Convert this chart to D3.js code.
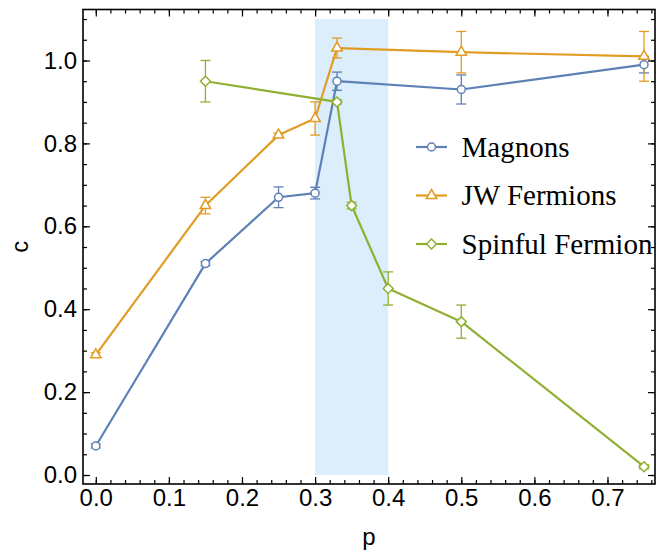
<!DOCTYPE html>
<html>
<head>
<meta charset="utf-8">
<script src="https://cdn.jsdelivr.net/npm/d3@7"></script>
<style>
  body { margin: 0; background: #fff; }
  svg { display: block; }
</style>
</head>
<body>
<svg width="668" height="556"></svg>
<script>
// data
const magP = [0, 0.15, 0.25, 0.30, 0.33, 0.50, 0.75];
const magC = [0.07, 0.51, 0.67, 0.68, 0.95, 0.93, 0.99];
const magErr = [0.005, 0.005, 0.025, 0.014, 0.022, 0.035, 0.02];

const jwP = [0, 0.15, 0.25, 0.30, 0.33, 0.50, 0.75];
const jwC = [0.29, 0.65, 0.82, 0.86, 1.03, 1.02, 1.01];
const jwErr = [0.005, 0.02, 0.005, 0.04, 0.024, 0.05, 0.06];

const spP = [0.15, 0.33, 0.35, 0.40, 0.50, 0.75];
const spC = [0.95, 0.90, 0.65, 0.45, 0.37, 0.02];
const spErr = [0.05, 0.005, 0.008, 0.04, 0.04, 0.005];

const band = [0.3, 0.4];
const bandTop = 1.1;

const xTicks = [0, 0.1, 0.2, 0.3, 0.4, 0.5, 0.6, 0.7];
const yTicks = [0, 0.2, 0.4, 0.6, 0.8, 1.0];

const series = [
  { name: "Magnons", p: magP, c: magC, err: magErr, color: "#5e81b5", shape: "circle" },
  { name: "JW Fermions", p: jwP, c: jwC, err: jwErr, color: "#e19c24", shape: "triangle" },
  { name: "Spinful Fermion", p: spP, c: spC, err: spErr, color: "#8fb032", shape: "diamond" },
];

const svg = d3.select("svg");
const plotLeft = 83, plotRight = 655, plotTop = 9.5, plotBottom = 484;

const x = d3.scaleLinear().domain([-0.0175, 0.765]).range([plotLeft, plotRight]);
const y = d3.scaleLinear().domain([-0.0217, 1.123]).range([plotBottom, plotTop]);

// shaded region
svg.append("rect")
  .attr("x", x(band[0]))
  .attr("y", y(bandTop))
  .attr("width", x(band[1]) - x(band[0]))
  .attr("height", y(0) - y(bandTop))
  .attr("fill", "#dcedfc");

// axes, ticks pointing inwards
const minorX = d3.range(0, 0.7601, 0.02);
const minorY = d3.range(0, 1.1001, 0.05);

function styleAxis(g) {
  g.select(".domain").remove();
  g.selectAll(".tick line").attr("stroke", "#000").attr("stroke-width", 1.2);
  g.selectAll(".tick text")
    .attr("fill", "#000")
    .style("font-family", "'Liberation Sans', Arial, sans-serif")
    .style("font-size", "24px");
}

svg.append("g").attr("transform", `translate(0,${plotBottom})`)
  .call(d3.axisBottom(x).tickValues(minorX).tickSize(-4).tickFormat(""))
  .call(styleAxis);
svg.append("g").attr("transform", `translate(0,${plotBottom})`)
  .call(d3.axisBottom(x).tickValues(xTicks).tickSize(-7).tickPadding(5).tickFormat(d3.format(".1f")))
  .call(styleAxis);
svg.append("g").attr("transform", `translate(0,${plotTop})`)
  .call(d3.axisTop(x).tickValues(minorX).tickSize(-4).tickFormat(""))
  .call(styleAxis);
svg.append("g").attr("transform", `translate(0,${plotTop})`)
  .call(d3.axisTop(x).tickValues(xTicks).tickSize(-7).tickFormat(""))
  .call(styleAxis);

svg.append("g").attr("transform", `translate(${plotLeft},0)`)
  .call(d3.axisLeft(y).tickValues(minorY).tickSize(-4).tickFormat(""))
  .call(styleAxis);
svg.append("g").attr("transform", `translate(${plotLeft},0)`)
  .call(d3.axisLeft(y).tickValues(yTicks).tickSize(-7).tickPadding(6).tickFormat(d3.format(".1f")))
  .call(styleAxis);
svg.append("g").attr("transform", `translate(${plotRight},0)`)
  .call(d3.axisRight(y).tickValues(minorY).tickSize(-4).tickFormat(""))
  .call(styleAxis);
svg.append("g").attr("transform", `translate(${plotRight},0)`)
  .call(d3.axisRight(y).tickValues(yTicks).tickSize(-7).tickFormat(""))
  .call(styleAxis);

// frame
svg.append("rect")
  .attr("x", plotLeft).attr("y", plotTop)
  .attr("width", plotRight - plotLeft).attr("height", plotBottom - plotTop)
  .attr("fill", "none").attr("stroke", "#000").attr("stroke-width", 1.6);

// axis labels
svg.append("text")
  .attr("x", (plotLeft + plotRight) / 2).attr("y", 545)
  .attr("text-anchor", "middle")
  .style("font-family", "'Liberation Sans', Arial, sans-serif")
  .style("font-size", "24px")
  .text("p");
svg.append("text")
  .attr("transform", `translate(28,${(plotTop + plotBottom) / 2}) rotate(-90)`)
  .attr("text-anchor", "middle")
  .style("font-family", "'Liberation Sans', Arial, sans-serif")
  .style("font-size", "24px")
  .text("c");

function markerPath(shape) {
  if (shape === "circle") return d3.symbol(d3.symbolCircle, 50)();
  if (shape === "triangle") return "M0,-6L5.2,3L-5.2,3Z";
  return "M0,-5L5,0L0,5L-5,0Z";
}

const line = d3.line();
const plot = svg.append("g");

series.forEach(s => {
  const pts = s.p.map((p, i) => [x(p), y(s.c[i])]);
  plot.append("path")
    .attr("d", line(pts))
    .attr("fill", "none")
    .attr("stroke", s.color)
    .attr("stroke-width", 2.2)
    .attr("stroke-linejoin", "round");

  const eb = plot.append("g").attr("stroke", s.color).attr("stroke-width", 1.3);
  s.p.forEach((p, i) => {
    const cx = x(p), y1 = y(s.c[i] + s.err[i]), y2 = y(s.c[i] - s.err[i]);
    eb.append("line").attr("x1", cx).attr("x2", cx).attr("y1", y1).attr("y2", y2);
    eb.append("line").attr("x1", cx - 5).attr("x2", cx + 5).attr("y1", y1).attr("y2", y1);
    eb.append("line").attr("x1", cx - 5).attr("x2", cx + 5).attr("y1", y2).attr("y2", y2);
  });
});

series.forEach(s => {
  plot.append("g").selectAll("path")
    .data(s.p.map((p, i) => [x(p), y(s.c[i])]))
    .join("path")
    .attr("transform", d => `translate(${d[0]},${d[1]})`)
    .attr("d", markerPath(s.shape))
    .attr("fill", "#fff")
    .attr("stroke", s.color)
    .attr("stroke-width", 1.5);
});

// legend
const legend = svg.append("g");
series.forEach((s, i) => {
  const ly = 147 + i * 48.5;
  legend.append("line")
    .attr("x1", 416).attr("x2", 447).attr("y1", ly).attr("y2", ly)
    .attr("stroke", s.color).attr("stroke-width", 2.2);
  legend.append("path")
    .attr("transform", `translate(431.5,${ly})`)
    .attr("d", markerPath(s.shape))
    .attr("fill", "#fff").attr("stroke", s.color).attr("stroke-width", 1.5);
  legend.append("text")
    .attr("x", 461.5).attr("y", ly + 9.5)
    .style("font-family", "'Liberation Serif', 'Times New Roman', serif")
    .style("font-size", "29px")
    .text(s.name);
});
</script>
</body>
</html>
